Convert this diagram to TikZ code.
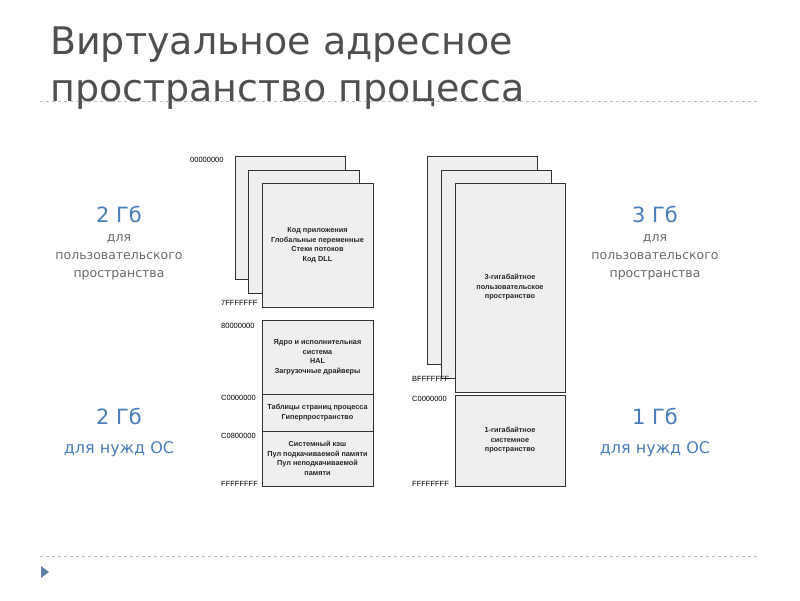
\documentclass[tikz,border=0pt]{standalone}
\usepackage{fontspec}
\setmainfont{Liberation Sans}
\newfontfamily\dvs{DejaVu Sans}
\definecolor{titlec}{HTML}{4F4F4F}
\definecolor{bluec}{HTML}{4A7EBB}
\definecolor{grayc}{HTML}{6A6A6A}
\definecolor{boxc}{HTML}{EFEFEF}
\begin{document}
\begin{tikzpicture}[x=1pt,y=-1pt,
 pg/.style={draw=black!80,fill=boxc,line width=0.8pt},
 addr/.style={font=\fontsize{7.5}{8}\selectfont,anchor=west,inner sep=0},
 inb/.style={font=\fontsize{7.3}{9.5}\selectfont\bfseries,align=center,text=black!85},
 big/.style={font=\dvs\fontsize{21}{22}\selectfont,text=bluec},
 small/.style={font=\dvs\fontsize{12.5}{18}\selectfont,text=grayc,align=center},
 os/.style={font=\dvs\fontsize{16}{17}\selectfont,text=bluec}]
\useasboundingbox (0,0) rectangle (800,600);
\node[anchor=west,text=titlec,font=\dvs\fontsize{38}{47}\selectfont,align=left,inner sep=0] (title) at (50,68) {Виртуальное адресное\\пространство процесса};
\draw[gray!50,dashed,line width=1pt] (40,101) coordinate (d1) -- (760,101) coordinate (d2);
\draw[gray!50,dashed,line width=1pt] (40,556) coordinate (d3) -- (760,556) coordinate (d4);
\fill[bluec!60!gray] (41,566) -- (49,572) -- (41,578) -- cycle;
% left stack
\draw[pg] (235,156) rectangle (345,279);
\draw[pg] (248,170) rectangle (359,293);
\node[pg,minimum width=111,minimum height=124,inb] (lu) at (317.5,245) {Код приложения\\Глобальные переменные\\Стеки потоков\\Код DLL};
\node[pg,minimum width=111,minimum height=74,inb] (k1) at (317.5,357) {Ядро и исполнительная\\система\\HAL\\Загрузочные драйверы};
\node[pg,minimum width=111,minimum height=37,inb] (k2) at (317.5,412.5) {Таблицы страниц процесса\\Гиперпространство};
\node[pg,minimum width=111,minimum height=55,inb] (k3) at (317.5,458.5) {Системный кэш\\Пул подкачиваемой памяти\\Пул неподкачиваемой\\памяти};
\node[addr] (a1) at (190,160) {00000000};
\node[addr] (a2) at (221,303) {7FFFFFFF};
\node[addr] (a3) at (221,326) {80000000};
\node[addr] (a4) at (221,398) {C0000000};
\node[addr] (a5) at (221,436) {C0800000};
\node[addr] (a6) at (221,484) {FFFFFFFF};
% right stack
\draw[pg] (427,156) rectangle (537,364);
\draw[pg] (441,170) rectangle (551,378);
\node[pg,minimum width=110,minimum height=209,inb] (ru) at (510,287.5) {3-гигабайтное\\пользовательское\\пространство};
\node[pg,minimum width=110,minimum height=91,inb] (rk) at (510,440.5) {1-гигабайтное\\системное\\пространство};
\node[addr] (b1) at (412,379) {BFFFFFFF};
\node[addr] (b2) at (412,399) {C0000000};
\node[addr] (b3) at (412,484) {FFFFFFFF};
% side labels
\node[big] (l1) at (119,214) {2 Гб};
\node[small] (l1s) at (119,257) {для\\пользовательского\\пространства};
\node[big] (l2) at (119,416) {2 Гб};
\node[os] (l2s) at (119,449) {для нужд ОС};
\node[big] (r1) at (655,214) {3 Гб};
\node[small] (r1s) at (655,257) {для\\пользовательского\\пространства};
\node[big] (r2) at (655,416) {1 Гб};
\node[os] (r2s) at (655,449) {для нужд ОС};
\end{tikzpicture}
\end{document}
